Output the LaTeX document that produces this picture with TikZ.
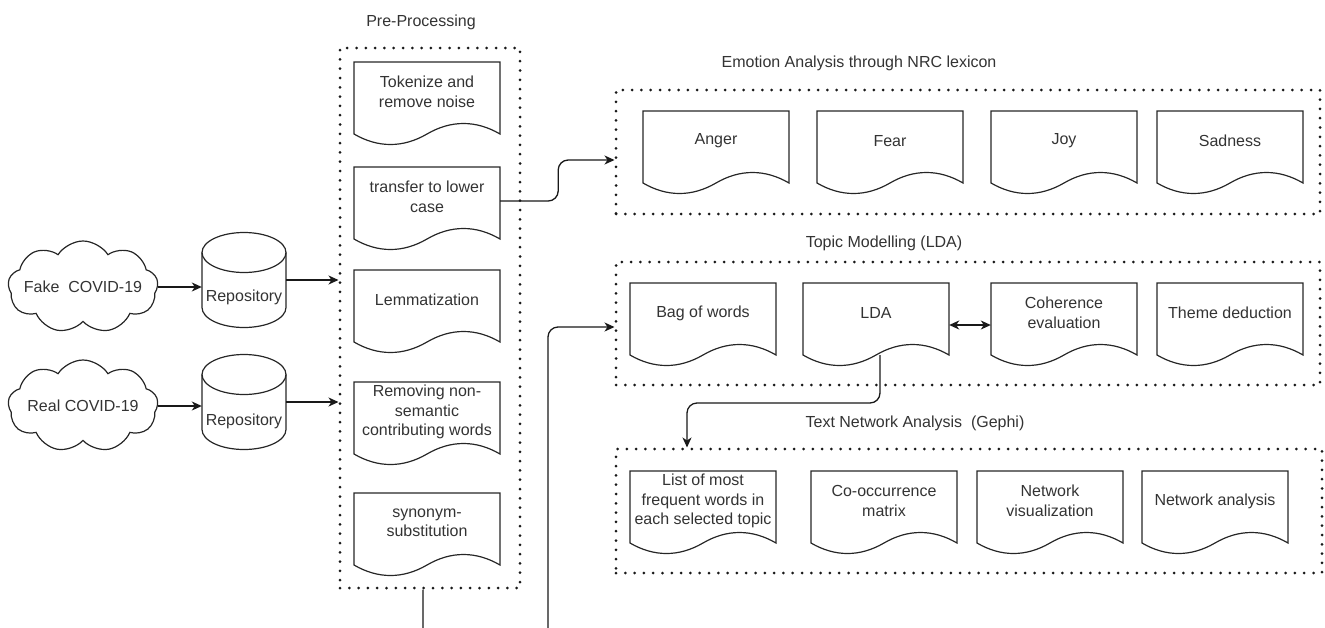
\documentclass[tikz,border=0pt]{standalone}
\usepackage{fontspec}
\setmainfont{Liberation Sans}
\usetikzlibrary{arrows.meta,shapes.symbols,positioning}

\begin{document}
\begin{tikzpicture}[x=1pt, y=-1pt,
    >={Stealth[length=10pt, width=9pt, inset=3pt]},
    every node/.style={font=\fontsize{16}{19.5}\selectfont, text=black!80},
    doc/.style={rectangle, minimum width=146pt, minimum height=60pt, inner sep=0pt, align=center},
    cyl/.style={rectangle, minimum width=84pt, minimum height=95pt, inner sep=0pt},
    outline/.style={draw=black!85, line width=1.2pt},
    cloudy/.style={cloud, cloud puffs=9, cloud puff arc=115, aspect=1.6, inner sep=0pt,
      minimum width=150pt, minimum height=92pt, outline},
    grp/.style={rectangle, draw=black!90, line width=3pt, dash pattern=on 0pt off 9.3pt,
      line cap=round, inner sep=0pt},
    arr/.style={->, line width=1.3pt, draw=black!90}]

  \useasboundingbox (0,0) rectangle (1325,627);

  % sources
  \node[cloudy, label=center:{Fake\ \ COVID-19}] (fake) at (83,287) {};
  \node[cloudy, label=center:{Real COVID-19}] (real) at (83,406) {};
  \node[cyl, label={[yshift=-17pt]center:Repository}] (repo1) at (244,280) {};
  \node[cyl, label={[yshift=-19pt]center:Repository}] (repo2) at (244,402) {};

  % groups
  \node[grp, minimum width=180pt, minimum height=540pt] (pre) at (430,318) {};
  \node[grp, minimum width=704pt, minimum height=124pt] (emo) at (968,152) {};
  \node[grp, minimum width=704pt, minimum height=123pt] (topic) at (968,323.5) {};
  \node[grp, minimum width=706pt, minimum height=124pt] (net) at (969,511) {};

  \node (pretitle) at (421,22) {Pre-Processing};
  \node (emotitle) at (859,63) {Emotion Analysis through NRC lexicon};
  \node (topictitle) at (884,243) {Topic Modelling (LDA)};
  \node (nettitle) at (915,423) {Text Network Analysis\ \ (Gephi)};

  % pre-processing steps
  \node[doc] (tok) at (427,92) {Tokenize and\\remove noise};
  \node[doc] (trans) at (427,197) {transfer to lower\\case};
  \node[doc] (lemma) at (427,300) {Lemmatization};
  \node[doc] (remov) at (427,412) {Removing non-\\semantic\\contributing words};
  \node[doc] (synon) at (427,523) {synonym-\\substitution};

  % emotions
  \node[doc] (anger) at (716,141) {Anger};
  \node[doc] (fear) at (890,141) {Fear};
  \node[doc] (joy) at (1064,141) {Joy};
  \node[doc] (sad) at (1230,141) {Sadness};

  % topic modelling
  \node[doc] (bow) at (703,313) {Bag of words};
  \node[doc] (lda) at (876,313) {LDA};
  \node[doc] (coh) at (1064,313) {Coherence\\evaluation};
  \node[doc] (theme) at (1230,313) {Theme deduction};

  % text network
  \node[doc] (list) at (703,501) {List of most\\frequent words in\\each selected topic};
  \node[doc] (cooc) at (884,501) {Co-occurrence\\matrix};
  \node[doc] (netvis) at (1050,501) {Network\\visualization};
  \node[doc] (netana) at (1215,501) {Network analysis};

  % document outlines with wavy bottom
  \foreach \n in {tok,trans,lemma,remov,synon,anger,fear,joy,sad,bow,lda,coh,theme,list,cooc,netvis,netana}
    \draw[outline, shift={(\n.center)}] (-73pt,30pt) -- (73pt,30pt) -- (73pt,-42pt)
      .. controls (49pt,-28pt) and (24pt,-28pt) .. (0pt,-42pt)
      .. controls (-24pt,-56pt) and (-49pt,-56pt) .. (-73pt,-42pt) -- cycle;

  % repository cylinders
  \foreach \n in {repo1,repo2} {
    \draw[outline, shift={(\n.center)}] (-42pt,27.5pt) -- (-42pt,-27.5pt)
      arc[start angle=180, end angle=360, x radius=42pt, y radius=20pt] -- (42pt,27.5pt)
      arc[start angle=0, end angle=180, x radius=42pt, y radius=20pt] -- cycle;
    \draw[outline, shift={(\n.center)}] (-42pt,27.5pt)
      arc[start angle=180, end angle=360, x radius=42pt, y radius=20pt];
  }

  \draw[arr] (fake.east) -- (fake.east -| repo1.west);
  \draw[arr] (real.east) -- (real.east -| repo2.west);
  \draw[arr] (repo1.east) -- (repo1.east -| pre.west);
  \draw[arr] (repo2.east) -- (repo2.east -| pre.west);
  \draw[arr, rounded corners=10pt] ([yshift=-4pt]trans.east) -- ++(58,0) |- ([yshift=-8pt]emo.west);
  \draw[arr, <->] ([yshift=-12pt]lda.east) -- ([yshift=-12pt]coh.west);
  \draw[arr, rounded corners=10pt] ([xshift=4pt,yshift=-12pt]lda.south) |- (687,403) -- ([xshift=-282pt]net.north);
  \begin{scope}
    \clip (0,0) rectangle (1325,627);
    \draw[arr, rounded corners=10pt] ([xshift=-7pt]pre.south) |- (548,680) |- ([yshift=-3.5pt]topic.west);
  \end{scope}
\end{tikzpicture}
\end{document}
